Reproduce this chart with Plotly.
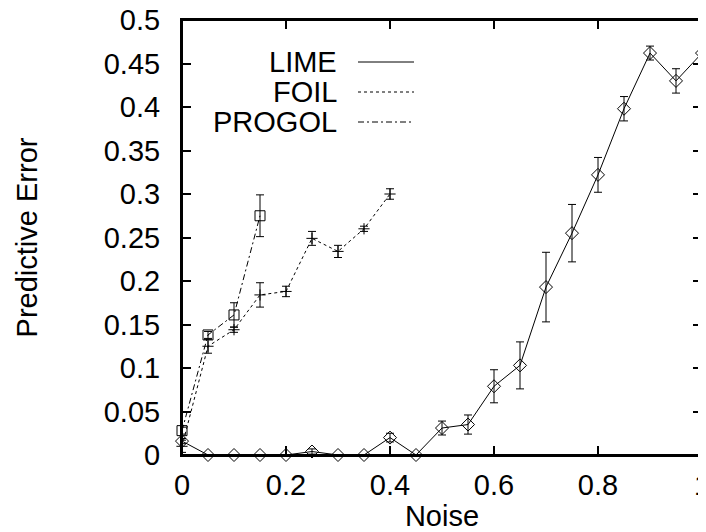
import plotly.graph_objects as go

# noise levels
lime_x = [0, 0.05, 0.1, 0.15, 0.2, 0.25, 0.3, 0.35, 0.4, 0.45, 0.5,
          0.55, 0.6, 0.65, 0.7, 0.75, 0.8, 0.85, 0.9, 0.95, 1.0]
lime_y = [0.016, 0, 0, 0, 0, 0.004, 0, 0, 0.020, 0, 0.031,
          0.035, 0.079, 0.103, 0.193, 0.255, 0.322, 0.398, 0.462, 0.430, 0.462]
lime_err = [0.003, 0, 0, 0, 0, 0.003, 0, 0, 0.005, 0, 0.008,
            0.011, 0.019, 0.027, 0.040, 0.033, 0.020, 0.014, 0.008, 0.014, 0.008]

foil_x = [0, 0.05, 0.1, 0.15, 0.2, 0.25, 0.3, 0.35, 0.4]
foil_y = [0.010, 0.125, 0.144, 0.184, 0.188, 0.249, 0.234, 0.260, 0.300]
foil_err = [0.007, 0.008, 0.003, 0.014, 0.006, 0.008, 0.007, 0.003, 0.006]

progol_x = [0, 0.05, 0.1, 0.15]
progol_y = [0.028, 0.138, 0.161, 0.275]
progol_err = [0.004, 0.004, 0.014, 0.024]

y_ticks = [0, 0.05, 0.1, 0.15, 0.2, 0.25, 0.3, 0.35, 0.4, 0.45, 0.5]
y_labels = ["0", "0.05", "0.1", "0.15", "0.2", "0.25", "0.3", "0.35", "0.4", "0.45", "0.5"]
x_ticks = [0, 0.2, 0.4, 0.6, 0.8, 1]
x_labels = ["0", "0.2", "0.4", "0.6", "0.8", "1"]

series = [
    ("LIME", lime_x, lime_y, lime_err, "solid", "diamond-open", 10),
    ("FOIL", foil_x, foil_y, foil_err, "3px,3px", "cross-thin-open", 8),
    ("PROGOL", progol_x, progol_y, progol_err, "6px,3px,2px,3px", "square-open", 10),
]

fig = go.Figure()

for name, xs, ys, es, dash, sym, size in series:
    fig.add_trace(go.Scatter(
        x=xs, y=ys, name=name, mode="lines+markers",
        line=dict(color="black", width=1, dash=dash),
        marker=dict(symbol=sym, size=size, color="black",
                    line=dict(color="black", width=1)),
        error_y=dict(type="data", array=es, color="black",
                     thickness=1, width=4),
        cliponaxis=False,
        showlegend=False,
    ))

# gnuplot-style key: right-aligned text with line sample to the right
font = dict(family="Liberation Sans, Arial, sans-serif", size=29, color="black")
key_rows = [(62, "solid"), (92, "3px,3px"), (122, "6px,3px,2px,3px")]
for (py, dash), (name, *_rest) in zip(key_rows, series):
    yp = (455 - py) / 435
    fig.add_annotation(x=(337 - 182) / 520, y=yp, xref="paper", yref="paper",
                       text=name, showarrow=False, xanchor="right",
                       yanchor="middle", font=font, xshift=2)
    fig.add_shape(type="line", xref="paper", yref="paper",
                  x0=(358 - 182) / 520, x1=(414 - 182) / 520, y0=yp, y1=yp,
                  line=dict(color="black", width=1, dash=dash))

# plot frame
fig.add_shape(type="rect", xref="paper", yref="paper", x0=0, x1=1, y0=0, y1=1,
              line=dict(color="black", width=2), layer="above")

axis_common = dict(
    showgrid=False, zeroline=False, showline=True, linecolor="black",
    linewidth=2, mirror="ticks", ticks="inside", ticklen=9, tickwidth=1.5,
    tickcolor="black", tickfont=font, ticklabeloverflow="allow",
    automargin=False,
)

fig.update_xaxes(range=[0, 1], tickvals=x_ticks, ticktext=x_labels,
                 title=dict(text="Noise", font=font, standoff=0),
                 ticklabelstandoff=3, **axis_common)
fig.update_yaxes(range=[0, 0.5], tickvals=y_ticks, ticktext=y_labels,
                 title=dict(text="Predictive Error", font=font, standoff=58),
                 ticklabelstandoff=14, **axis_common)

# page body has an 8px margin, so the figure is sized to fit the window
fig.update_layout(
    width=698, height=524,
    margin=dict(l=174, r=4, t=12, b=77),
    paper_bgcolor="white", plot_bgcolor="white",
    font=font,
)

fig.write_html("out.html")
